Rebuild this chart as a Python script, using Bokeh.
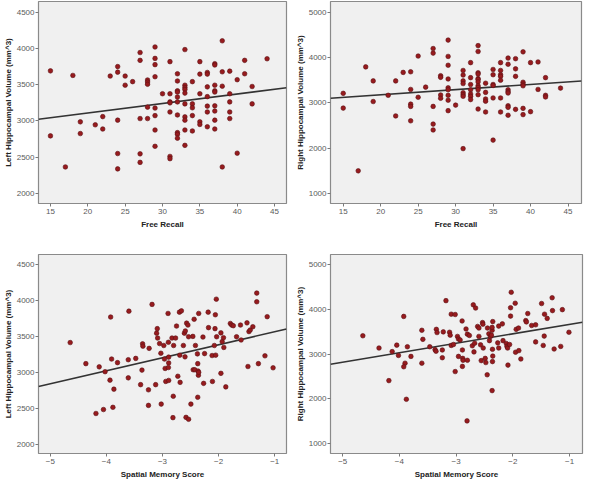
from bokeh.plotting import figure
from bokeh.layouts import row, column
from bokeh.models import FixedTicker, Range1d
from bokeh.embed import file_html
from bokeh.resources import INLINE

# ---------------- data ----------------
# Panel 1: Free Recall vs Left Hippocampal Volume
fr_left_x = [15, 15, 17, 18, 19, 19, 21, 22, 22, 23,
             24, 24, 24, 24, 24, 25, 25, 26, 27, 27, 27, 27, 27,
             28, 28, 28, 28, 28, 29, 29, 29, 29, 29, 29, 29, 29, 30,
             31, 31, 31, 31, 31, 31, 31,
             32, 32, 32, 32, 32, 32, 32, 32, 32, 32,
             33, 33, 33, 33, 33, 33, 33, 33, 33, 33,
             34, 34, 34, 34, 34, 35, 35, 35, 35, 35,
             36, 36, 36, 36, 36, 36, 36,
             37, 37, 37, 37, 37, 37, 37, 37, 37,
             38, 38, 38, 38, 39, 39, 39, 39, 39, 40, 40, 41, 41, 42, 42, 44]
fr_left_y = [3692, 2794, 2365, 3629, 2988, 2826, 2947, 3060, 2889, 3620,
             3751, 3674, 3011, 2550, 2338, 3620, 3494, 3543, 3945, 3837, 3033, 2546, 2428,
             3566, 3539, 3507, 3191, 3033, 4022, 3864, 3778, 3611, 3178, 3074, 2875, 2650, 3376,
             3819, 3376, 3263, 3250, 3124, 2510, 2479,
             3652, 3552, 3417, 3399, 3331, 3263, 3083, 2839, 2817, 2762,
             3986, 3494, 3462, 3435, 3385, 3236, 3056, 3011, 2875, 2663,
             3543, 3236, 3182, 3074, 2862, 3819, 3647, 3376, 2988, 2952,
             3670, 3647, 3471, 3336, 3205, 3124, 2920,
             3791, 3773, 3494, 3417, 3399, 3209, 3137, 3011, 2889,
             4107, 3679, 3480, 2365, 3688, 3376, 3263, 3124, 3033, 3570, 2555, 3837, 3652, 3476, 3236, 3859]

# Panel 2: Free Recall vs Right Hippocampal Volume
fr_right_x = [15, 15, 17, 18, 19, 19, 21, 22, 22, 23,
              24, 24, 24, 24, 24, 25, 25, 26, 27, 27, 27, 27, 27,
              28, 28, 28, 28, 29, 29, 29, 29, 29, 29, 29, 29, 29, 30,
              31, 31, 31, 31, 31, 31, 31, 31,
              32, 32, 32, 32, 32, 32, 32,
              33, 33, 33, 33, 33, 33, 33, 33, 33, 33, 33, 33,
              34, 34, 34, 34, 34, 35, 35, 35, 35, 35, 35,
              36, 36, 36, 36, 36, 36, 36,
              37, 37, 37, 37, 37, 37, 37, 37,
              38, 38, 38, 38, 39, 39, 39, 39, 39, 39,
              40, 40, 41, 41, 42, 42, 42, 44]
fr_right_y = [3210, 2884, 1498, 3794, 3484, 3029, 3166, 3484, 2711, 3672,
              3686, 3296, 2971, 2921, 2603, 4033, 3123, 3347, 4199, 4098, 2921, 2531, 2401,
              3599, 3563, 3173, 3101, 4386, 4025, 3830, 3527, 3332, 3289, 3166, 3058, 2827, 2950,
              3715, 3614, 3484, 3426, 3224, 3180, 3144, 1989,
              3888, 3556, 3404, 3289, 3195, 3144, 3072,
              4264, 4134, 3664, 3635, 3534, 3513, 3462, 3376, 3339, 3289, 3180, 2863,
              3433, 3231, 3085, 3036, 2798, 3737, 3621, 3405, 3383, 3108, 2177,
              3888, 3715, 3621, 3585, 3498, 3108, 2798,
              3989, 3852, 3289, 3246, 3217, 2936, 2900, 2726,
              3975, 3751, 3585, 2856, 4126, 3455, 3412, 3376, 2878, 2740,
              3888, 2805, 3903, 3296, 3556, 3166, 3130, 3325]

# Panel 3: Spatial Memory Score vs Left Hippocampal Volume
sm_left_x = [-4.645, -4.366, -4.128, -4.023, -4.186, -4.052, -3.924, -3.907, -3.936, -3.884,
             -3.866, -3.802, -3.599, -3.610, -3.610, -3.477, -3.355, -3.349, -3.366, -3.390,
             -3.238, -3.250, -3.250, -3.186, -3.105, -3.093, -3.087, -3.122, -3.052, -3.029,
             -3.023, -2.977, -2.965, -2.953, -2.942, -2.901, -2.895, -2.890, -2.890, -2.895,
             -2.890, -2.831, -2.802, -2.808, -2.814, -2.750, -2.767, -2.727, -2.698, -2.663,
             -2.692, -2.686, -2.628, -2.610, -2.593, -2.599, -2.581, -2.535, -2.570, -2.547,
             -2.535, -2.494, -2.459, -2.436, -2.413, -2.453, -2.424, -2.378, -2.372, -2.366,
             -2.360, -2.355, -2.372, -2.355, -2.279, -2.267, -2.250, -2.180, -2.186, -2.116,
             -2.110, -2.076, -2.064, -2.058, -2.052, -2.041, -2.035, -1.959, -1.959, -1.936,
             -1.913, -1.907, -1.872, -1.791, -1.767, -1.738, -1.680, -1.610, -1.599, -1.494,
             -1.477, -1.459, -1.436, -1.390, -1.320, -1.320, -1.291, -1.174, -1.134, -1.029]
sm_left_y = [3417, 3123, 3078, 3011, 2428, 2483, 3773, 3187, 2893, 2514,
             2767, 3137, 3855, 3178, 2925, 3196, 3399, 3367, 3033, 2830,
             3336, 2758, 2541, 3949, 3548, 3611, 3480, 2830, 3403, 3268,
             2559, 3376, 3187, 3056, 2875, 3823, 3421, 3214, 3133, 3069,
             2889, 3480, 3376, 2668, 2370, 3647, 3480, 2947, 3841, 3859,
             3241, 2862, 3376, 3548, 3579, 3218, 2374, 2347, 3688, 3661,
             3498, 2559, 3503, 3742, 3376, 3038, 3038, 3259, 3123, 3020,
             2961, 3823, 2654, 3002, 3494, 2848, 3263, 3625, 3841, 3236,
             2875, 3376, 3611, 3805, 3241, 4022, 3498, 3552, 2988, 3430,
             3485, 3349, 2799, 3683, 3661, 3652, 3498, 3661, 3453, 3692,
             3083, 3570, 3593, 3638, 4107, 3986, 3123, 3232, 3778, 3065]

# Panel 4: Spatial Memory Score vs Right Hippocampal Volume
sm_right_x = [-4.645, -4.360, -4.128, -4.047, -4.017, -4.186, -3.924, -3.901, -3.924, -3.860,
              -3.878, -3.797, -3.605, -3.587, -3.605, -3.465, -3.372, -3.355, -3.349, -3.337,
              -3.244, -3.244, -3.227, -3.180, -3.116, -3.105, -3.087, -3.087, -3.047, -3.017,
              -3.017, -2.977, -2.959, -2.959, -2.930, -2.895, -2.890, -2.884, -2.878, -2.890,
              -2.826, -2.802, -2.802, -2.767, -2.808, -2.715, -2.698, -2.657, -2.686, -2.674,
              -2.622, -2.599, -2.599, -2.570, -2.558, -2.535, -2.529, -2.523, -2.488, -2.477,
              -2.453, -2.448, -2.424, -2.413, -2.395, -2.378, -2.366, -2.366, -2.355, -2.360,
              -2.355, -2.360, -2.366, -2.267, -2.250, -2.250, -2.186, -2.174, -2.116, -2.105,
              -2.093, -2.087, -2.058, -2.041, -2.041, -2.029, -1.959, -1.953, -1.942, -1.901,
              -1.895, -1.860, -1.773, -1.762, -1.738, -1.669, -1.599, -1.599, -1.494, -1.465,
              -1.448, -1.442, -1.395, -1.308, -1.302, -1.273, -1.157, -1.128, -1.012]
sm_right_y = [3409, 3134, 3054, 3199, 2968, 2403, 3843, 2794, 2714, 3163,
              1984, 2946, 3532, 3329, 2794, 3163, 3098, 3062, 3553, 3481,
              3090, 2917, 3496, 4197, 3488, 3423, 3893, 3192, 3213, 3886,
              2606, 3394, 3336, 2946, 3315, 3741, 3090, 2902, 2859, 2722,
              3561, 3445, 2859, 3416, 1499, 3185, 4103, 4031, 3047, 3242,
              3618, 3582, 3394, 3206, 2852, 3705, 3669, 3134, 2902, 2808,
              2534, 3582, 3452, 3300, 3394, 3423, 3532, 3597, 3727, 2830,
              2953, 3105, 2179, 3250, 3626, 3134, 3676, 3300, 3235, 3170,
              3134, 2751, 3213, 4038, 3850, 4385, 4139, 3040, 3553, 3582,
              3076, 2888, 3749, 3720, 3908, 3640, 3655, 3271, 4132, 3192,
              3402, 3893, 3799, 4262, 3973, 3112, 3170, 3995, 3488]

# Fit lines (intercept, slope)
fit_intercepts = [2849, 2949, 3750, 3877]
fit_slopes = [13.07, 11.43, 181.7, 212.0]

fr_ticks = [15, 20, 25, 30, 35, 40, 45]
sm_ticks = [-5, -4, -3, -2, -1]
left_ticks = [2000, 2500, 3000, 3500, 4000, 4500]
right_ticks = [1000, 2000, 3000, 4000, 5000]

x_titles = ["Free Recall", "Free Recall", "Spatial Memory Score", "Spatial Memory Score"]
y_titles = ["Left Hippocampal Volume (mm^3)", "Right Hippocampal Volume (mm^3)",
            "Left Hippocampal Volume (mm^3)", "Right Hippocampal Volume (mm^3)"]

FONT = "Liberation Sans"


def make_panel(xs, ys, xr, yr, xt, yt, xtitle, ytitle, b0, b1, w, h,
               bl, br, bt, bb):
    p = figure(width=w, height=h, output_backend="svg", toolbar_location=None,
               x_range=Range1d(*xr), y_range=Range1d(*yr),
               min_border_left=bl, min_border_right=br,
               min_border_top=bt, min_border_bottom=bb)
    p.background_fill_color = "#f0f0f0"
    p.border_fill_color = "white"
    p.outline_line_color = "#8a8a8a"
    p.outline_line_width = 1.2
    p.grid.visible = False
    for ax, ticks, title in ((p.xaxis[0], xt, xtitle), (p.yaxis[0], yt, ytitle)):
        ax.ticker = FixedTicker(ticks=ticks)
        ax.axis_label = title
        ax.axis_label_text_font = FONT
        ax.axis_label_text_font_style = "bold"
        ax.axis_label_text_font_size = "8px"
        ax.axis_label_text_color = "#222222"
        ax.axis_label_standoff = 1
        ax.major_label_text_font = FONT
        ax.major_label_text_font_size = "8px"
        ax.major_label_text_color = "#5a5a5a"
        ax.major_label_standoff = 1
        ax.axis_line_color = None
        ax.major_tick_in = 0
        ax.major_tick_out = 3
        ax.major_tick_line_color = "#7a7a7a"
        ax.minor_tick_line_color = None
    p.xaxis[0].axis_label_standoff = 3
    p.xaxis[0].major_label_standoff = 2
    lx = [xr[0], xr[1]]
    ly = [b0 + b1 * v for v in lx]
    p.line(lx, ly, line_color="#333333", line_width=1.6)
    p.scatter(xs, ys, marker="circle", size=4.6, fill_color="#971b1e",
              line_color="#5c1014", line_width=0.6)
    return p


p1 = make_panel(fr_left_x, fr_left_y, (13.4, 46.6), (1860, 4650), fr_ticks, left_ticks,
                x_titles[0], y_titles[0], fit_intercepts[0], fit_slopes[0],
                292, 240, 33, 6, 1, 37)
p2 = make_panel(fr_right_x, fr_right_y, (13.3, 46.8), (777, 5238), fr_ticks, right_ticks,
                x_titles[1], y_titles[1], fit_intercepts[1], fit_slopes[1],
                292, 240, 34, 3, 1, 37)
p3 = make_panel(sm_left_x, sm_left_y, (-5.21, -0.79), (1870, 4645), sm_ticks, left_ticks,
                x_titles[2], y_titles[2], fit_intercepts[2], fit_slopes[2],
                292, 241, 33, 6, 14, 27)
p4 = make_panel(sm_right_x, sm_right_y, (-5.215, -0.773), (768, 5232), sm_ticks, right_ticks,
                x_titles[3], y_titles[3], fit_intercepts[3], fit_slopes[3],
                292, 241, 38, 2, 14, 27)

layout = column(row(p1, p2), row(p3, p4))
open("out.html", "w").write(file_html(layout, INLINE))
